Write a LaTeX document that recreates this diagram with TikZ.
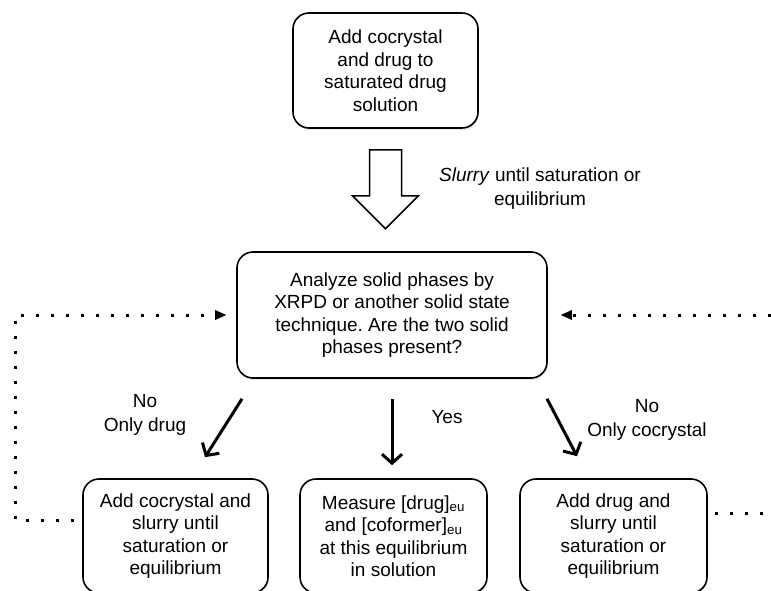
\documentclass[tikz,border=0pt]{standalone}
\usepackage{fontspec}
\setmainfont{Liberation Sans}
\frenchspacing
\usetikzlibrary{arrows.meta,shadows}
\tikzset{
  box/.style={draw,line width=1.6pt,rounded corners=16pt,align=center,
    drop shadow={opacity=0.2,shadow xshift=1pt,shadow yshift=-2pt},fill=white,
    font=\fontsize{19}{22.5}\selectfont,inner sep=0pt},
  flow/.style={line width=3pt,-{Straight Barb[length=9pt,width=20pt,line width=3pt]}},
  loopback/.style={line width=3pt,dash pattern=on 3pt off 12pt},
  hollow/.style={draw,line width=1.5pt,fill=white,line join=miter},
  lbl/.style={align=center,font=\fontsize{19}{24}\selectfont},
}

\begin{document}
\begin{tikzpicture}[x=1pt,y=-1pt]
            \useasboundingbox (0,0) rectangle (771,591);

            % Boxes
            \node[box,minimum width=185pt,minimum height=115pt] (start) at (385.5,70.5)
              {Add cocrystal\\and drug to\\saturated drug\\solution};
            \node[box,minimum width=310pt,minimum height=126pt] (mid) at (392,315)
              {Analyze solid phases by\\XRPD or another solid state\\technique. Are the two solid\\phases present?};
            \node[box,minimum width=185pt,minimum height=114pt] (bl) at (175.5,536)
              {Add cocrystal and\\slurry until\\saturation or\\equilibrium};
            \node[box,minimum width=187pt,minimum height=114pt] (bm) at (393.5,536)
              {Measure [drug]\textsubscript{eu}\\and [coformer]\textsubscript{eu}\\at this equilibrium\\in solution};
            \node[box,minimum width=187pt,minimum height=114pt] (br) at (613.5,536)
              {Add drug and\\slurry until\\saturation or\\equilibrium};

            % Slurry step
            \coordinate (ha) at ([yshift=-21pt]start.south);
            \draw[hollow] (ha) ++(-16,0) -- ++(32,0) -- ++(0,46) -- ++(17,0)
              -- ++(-33,33) -- ++(-33,-33) -- ++(17,0) -- cycle;
            \node[lbl] (slurry) at (540,189) {\textit{Slurry} until saturation or\\equilibrium};

            % Outcomes
            \draw[flow] ([shift={(-150,20)}]mid.south) -- ([shift={(29.5,-21)}]bl.north);
            \draw[flow] ([shift={(0,20)}]mid.south) -- ([shift={(-1.5,-13)}]bm.north);
            \draw[flow] ([shift={(155,20)}]mid.south) -- ([shift={(-36.5,-22)}]br.north);
            \node[lbl] (nodrug) at (145,415) {No\\Only drug};
            \node[lbl] (yes) at (447,417) {Yes};
            \node[lbl] (nococ) at (647,420) {No\\Only cocrystal};

            % Repeat loops
            \coordinate (lc) at (15,315);
            \coordinate (rc) at (771,315);
            \coordinate (re) at (771,513);
            \draw[loopback] ([xshift=-8pt,yshift=16pt]bl.west) -| (lc) -- ([xshift=-16pt]mid.west);
            \fill ([xshift=-10pt]mid.west) -- ++(-11,-5) -- ++(0,10) -- cycle;
            \draw[loopback] (rc) -- ([xshift=19pt]mid.east);
            \fill ([xshift=13pt]mid.east) -- ++(11,-5) -- ++(0,10) -- cycle;
            \draw[loopback] ([xshift=7pt,yshift=23pt]br.east) -- (re);
\end{tikzpicture}
\end{document}
